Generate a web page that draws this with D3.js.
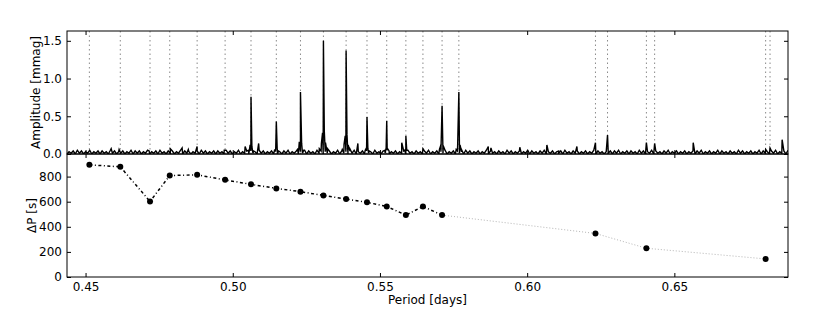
<!DOCTYPE html>
<html lang="en">
  <head>
    <meta charset="UTF-8">
    <script type="text/javascript" src="https://cdn.jsdelivr.net/npm/d3@7"></script>
    <style>
      body { margin: 0; background: #fff; }
      .axis text {
        font-family: 'DejaVu Sans', sans-serif;
        font-size: 12px;
        fill: #000;
      }
      .label {
        font-family: 'DejaVu Sans', sans-serif;
        font-size: 12px;
        fill: #000;
      }
    </style>
    <title>Period spacing</title>
  </head>
  <body>
    <script type="text/javascript">
      // Mode periods (days), marked as dotted lines in the top panel
      let modePeriods = [0.4513, 0.4618, 0.4719, 0.4786, 0.4879, 0.4974, 0.5062, 0.5148,
                         0.5230, 0.5308, 0.5385, 0.5456, 0.5523, 0.5588, 0.5646, 0.5711,
                         0.5768, 0.6232, 0.6273, 0.6405, 0.6433, 0.6810, 0.6825];

      // Period spacing (bottom panel)
      let spacingPeriods = [0.4513, 0.4618, 0.4719, 0.4786, 0.4879, 0.4974, 0.5062, 0.5148,
                            0.5230, 0.5308, 0.5385, 0.5456, 0.5523, 0.5588, 0.5646, 0.5711,
                            0.6232, 0.6405, 0.6810];
      let spacingValues = [894, 878, 602, 808, 814, 774, 738, 706,
                           680, 650, 621, 595, 562, 493, 562, 493,
                           347, 229, 144];
      let solidCount = 16; // first 16 points joined by the dash-dot line

      // Peaks of the amplitude spectrum: [period, amplitude]
      let peaks = [
        [0.4587, 0.07], [0.4614, 0.06], [0.4716, 0.04], [0.4788, 0.07], [0.4828, 0.08],
        [0.4849, 0.06], [0.4879, 0.10], [0.4971, 0.05], [0.5042, 0.10], [0.5088, 0.14],
        [0.5425, 0.14], [0.5574, 0.15], [0.5646, 0.07], [0.5868, 0.10], [0.5877, 0.08],
        [0.5975, 0.09], [0.6067, 0.12], [0.6107, 0.04], [0.6169, 0.10], [0.6232, 0.15],
        [0.6273, 0.25], [0.6405, 0.15], [0.6433, 0.14], [0.6564, 0.15], [0.6810, 0.06],
        [0.6825, 0.08], [0.6866, 0.19],
        // large peaks with their skirts
        [0.5054, 0.05], [0.5059, 0.12], [0.5062, 0.76], [0.5065, 0.10], [0.5071, 0.04],
        [0.5142, 0.05], [0.5146, 0.08], [0.5148, 0.43], [0.5151, 0.07], [0.5156, 0.04],
        [0.5220, 0.06], [0.5226, 0.16], [0.5230, 0.82], [0.5234, 0.14], [0.5241, 0.05],
        [0.5294, 0.07], [0.5301, 0.14], [0.5305, 0.28], [0.5308, 1.50], [0.5311, 0.30],
        [0.5315, 0.15], [0.5322, 0.07],
        [0.5372, 0.06], [0.5378, 0.13], [0.5382, 0.24], [0.5385, 1.37], [0.5388, 0.26],
        [0.5392, 0.12], [0.5399, 0.06],
        [0.5450, 0.05], [0.5454, 0.08], [0.5456, 0.49], [0.5459, 0.07], [0.5464, 0.04],
        [0.5517, 0.05], [0.5521, 0.08], [0.5523, 0.44], [0.5526, 0.07], [0.5531, 0.04],
        [0.5584, 0.05], [0.5588, 0.24], [0.5591, 0.05],
        [0.5702, 0.06], [0.5707, 0.12], [0.5711, 0.64], [0.5715, 0.11], [0.5721, 0.05],
        [0.5759, 0.06], [0.5764, 0.13], [0.5768, 0.82], [0.5772, 0.12], [0.5778, 0.05]
      ];

      // Noise floor, hundredths of mmag, sampled on an even grid
      let noiseStart = 0.4437;
      let noiseEnd = 0.6886;
      let noiseDigits = [
        '03140514031503140413051403140315041403150314051304',
        '14031504130314051403140413051403150314041305140314',
        '04130415031403150413051403140315041304150314041305',
        '13041503140314051304130415031403150314041305140314',
        '03150413041305140314031504130415031403140513041403',
        '14031504130314041503140413051403150413041503140314',
        '03140415031403150413041305140314031504130415031405'
      ].join('');

      let xTicks = [0.45, 0.50, 0.55, 0.60, 0.65];
      let ampTicks = [0.0, 0.5, 1.0, 1.5];
      let dpTicks = [0, 200, 400, 600, 800];

      let w = 830;
      let h = 312;
      let left = 67, right = 788;
      let top1 = 31, mid = 154, bottom2 = 277;

      let svg = d3.select('body')
                  .append('svg')
                  .attr('width', w)
                  .attr('height', h);

      let xScale = d3.scaleLinear()
                      .domain([0.4437, 0.6886])
                      .range([left, right]);
      let ampScale = d3.scaleLinear()
                      .domain([0, 1.63])
                      .range([mid, top1]);
      let dpScale = d3.scaleLinear()
                      .domain([0, 980])
                      .range([bottom2, mid]);

      // Clip paths for both panels
      let defs = svg.append('defs');
      defs.append('clipPath').attr('id', 'clipTop')
          .append('rect').attr('x', left).attr('y', top1)
          .attr('width', right - left).attr('height', mid - top1);
      defs.append('clipPath').attr('id', 'clipBottom')
          .append('rect').attr('x', left).attr('y', mid)
          .attr('width', right - left).attr('height', bottom2 - mid);

      /* ---- Top panel: amplitude spectrum ---- */
      let topG = svg.append('g').attr('clip-path', 'url(#clipTop)');

      // Dotted mode markers
      topG.selectAll('line.mode')
          .data(modePeriods)
          .enter()
          .append('line')
          .attr('class', 'mode')
          .attr('x1', d => xScale(d))
          .attr('x2', d => xScale(d))
          .attr('y1', top1)
          .attr('y2', mid)
          .attr('stroke', '#8a8a8a')
          .attr('stroke-width', 1)
          .attr('stroke-dasharray', '1.5,3');

      // Merge noise samples with peaks
      let nNoise = noiseDigits.length;
      let spectrum = [];
      for (let i = 0; i < nNoise; i++) {
        let p = noiseStart + i * (noiseEnd - noiseStart) / (nNoise - 1);
        spectrum.push([p, +noiseDigits[i] / 100]);
      }
      spectrum = spectrum.concat(peaks).sort((a, b) => a[0] - b[0]);

      let specLine = d3.line()
                        .x(d => xScale(d[0]))
                        .y(d => ampScale(d[1]));

      topG.append('path')
          .datum(spectrum)
          .attr('d', specLine)
          .attr('fill', 'none')
          .attr('stroke', '#000')
          .attr('stroke-width', 1.4);

      /* ---- Bottom panel: period spacing ---- */
      let pts = spacingPeriods.map((p, i) => [p, spacingValues[i]]);
      let bottomG = svg.append('g').attr('clip-path', 'url(#clipBottom)');

      let dpLine = d3.line()
                      .x(d => xScale(d[0]))
                      .y(d => dpScale(d[1]));

      // Faint dotted link for the sparse long-period modes
      bottomG.append('path')
          .datum(pts.slice(solidCount - 1))
          .attr('d', dpLine)
          .attr('fill', 'none')
          .attr('stroke', '#b5b5b5')
          .attr('stroke-width', 1)
          .attr('stroke-dasharray', '1,2');

      // Dash-dot line for the consecutive modes
      bottomG.append('path')
          .datum(pts.slice(0, solidCount))
          .attr('d', dpLine)
          .attr('fill', 'none')
          .attr('stroke', '#000')
          .attr('stroke-width', 1.5)
          .attr('stroke-dasharray', '3,2.5,1,2.5');

      bottomG.selectAll('circle')
          .data(pts)
          .enter()
          .append('circle')
          .attr('cx', d => xScale(d[0]))
          .attr('cy', d => dpScale(d[1]))
          .attr('r', 3)
          .attr('fill', '#000');

      /* ---- Axes: inward ticks on all four sides ---- */
      let tickLen = 4;

      // bottom panel x-axis with labels
      svg.append('g')
          .attr('class', 'axis')
          .attr('transform', 'translate(0,' + bottom2 + ')')
          .call(d3.axisBottom(xScale).tickValues(xTicks).tickFormat(d3.format('.2f'))
                .tickSizeInner(-tickLen).tickSizeOuter(0).tickPadding(5));
      // other x tick rows without labels
      [[mid, -tickLen], [mid, tickLen], [top1, tickLen]].forEach(([y, s]) => {
        svg.append('g')
            .attr('class', 'axis')
            .attr('transform', 'translate(0,' + y + ')')
            .call(d3.axisBottom(xScale).tickValues(xTicks).tickFormat('')
                  .tickSizeInner(s).tickSizeOuter(0));
      });

      // y axes
      svg.append('g')
          .attr('class', 'axis')
          .attr('transform', 'translate(' + left + ',0)')
          .call(d3.axisLeft(ampScale).tickValues(ampTicks).tickFormat(d3.format('.1f'))
                .tickSizeInner(-tickLen).tickSizeOuter(0).tickPadding(5));
      svg.append('g')
          .attr('class', 'axis')
          .attr('transform', 'translate(' + left + ',0)')
          .call(d3.axisLeft(dpScale).tickValues(dpTicks)
                .tickSizeInner(-tickLen).tickSizeOuter(0).tickPadding(5));
      svg.append('g')
          .attr('class', 'axis')
          .attr('transform', 'translate(' + right + ',0)')
          .call(d3.axisRight(ampScale).tickValues(ampTicks).tickFormat('')
                .tickSizeInner(-tickLen).tickSizeOuter(0));
      svg.append('g')
          .attr('class', 'axis')
          .attr('transform', 'translate(' + right + ',0)')
          .call(d3.axisRight(dpScale).tickValues(dpTicks).tickFormat('')
                .tickSizeInner(-tickLen).tickSizeOuter(0));

      svg.selectAll('.axis path.domain').remove();
      svg.selectAll('.axis line').attr('stroke', '#000');

      // Frames
      [[top1, mid], [mid, bottom2]].forEach(([y0, y1]) => {
        svg.append('rect')
            .attr('x', left)
            .attr('y', y0)
            .attr('width', right - left)
            .attr('height', y1 - y0)
            .attr('fill', 'none')
            .attr('stroke', '#000')
            .attr('stroke-width', 1);
      });

      // Axis labels
      svg.append('text')
          .attr('class', 'label')
          .attr('transform', 'translate(40,' + (top1 + mid) / 2 + ') rotate(-90)')
          .attr('text-anchor', 'middle')
          .text('Amplitude [mmag]');
      svg.append('text')
          .attr('class', 'label')
          .attr('transform', 'translate(35.5,' + (mid + bottom2) / 2 + ') rotate(-90)')
          .attr('text-anchor', 'middle')
          .text('ΔP [s]');
      svg.append('text')
          .attr('class', 'label')
          .attr('x', (left + right) / 2)
          .attr('y', 304)
          .attr('text-anchor', 'middle')
          .text('Period [days]');
    </script>
  </body>
</html>
